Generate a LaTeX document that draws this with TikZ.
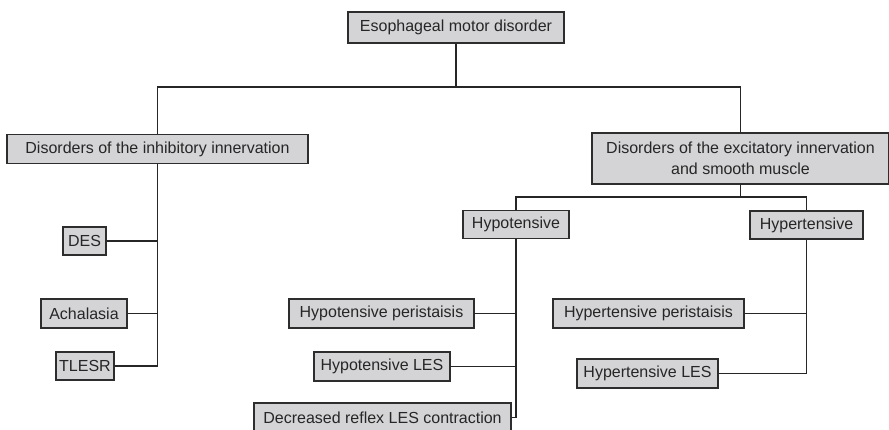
\documentclass[tikz,border=0pt]{standalone}
\usepackage{fontspec}
\setmainfont{Liberation Sans}
\usepackage{tikz}
\usetikzlibrary{calc}
\definecolor{boxgray}{RGB}{212,212,214}
\definecolor{edgegray}{RGB}{45,45,45}

\begin{document}
\begin{tikzpicture}[x=1pt,y=-1pt,
        box/.style={draw=edgegray, line width=1.4pt, fill=boxgray, text=black!85,
            inner xsep=1pt, inner ysep=0pt, minimum height=29pt,
            font=\fontsize{16}{21}\selectfont, align=center},
        link/.style={draw=black!85, line width=1.3pt}]
            \useasboundingbox (0,0) rectangle (889,430);
            \node[box, minimum width=216pt, minimum height=31pt] (root) at (456,27.5) {Esophageal motor disorder};
            \node[box, minimum width=301pt] (inh) at (157.5,149) {Disorders of the inhibitory innervation};
            \node[box, minimum width=297pt, minimum height=51pt] (exc) at (740.5,158.5) {Disorders of the excitatory innervation\\and smooth muscle};
            \node[box, minimum width=106pt, minimum height=28pt] (hypo) at (516,224.5) {Hypotensive};
            \node[box, minimum width=113pt, minimum height=28pt] (hyper) at (806.5,225) {Hypertensive};
            \node[box, minimum width=43pt, minimum height=28pt] (des) at (84.5,241) {DES};
            \node[box, minimum width=86pt] (acha) at (84,313.5) {Achalasia};
            \node[box, minimum width=58pt, minimum height=28pt] (tlesr) at (85,366) {TLESR};
            \node[box, minimum width=185pt] (hypoper) at (381.5,313.5) {Hypotensive peristaisis};
            \node[box, minimum width=136pt] (hypoles) at (382,366.5) {Hypotensive LES};
            \node[box, minimum width=257pt] (decr) at (382.5,417.5) {Decreased reflex LES contraction};
            \node[box, minimum width=191pt] (hyperper) at (648.5,313.5) {Hypertensive peristaisis};
            \node[box, minimum width=141pt] (hyperles) at (647.5,373.5) {Hypertensive LES};
            \coordinate (split) at (456,87);
            \coordinate (fork) at (740.5,197);
            \draw[link] (root.south) -- (split);
            \draw[link] (inh.north) |- (split) -| (exc.north);
            \draw[link] (inh.south) |- (tlesr.east);
            \draw[link] (des.east) -- (des.east -| inh.south);
            \draw[link] (acha.east) -- (acha.east -| inh.south);
            \draw[link] (exc.south) -- (fork);
            \draw[link] (hypo.north) |- (fork) -| (hyper.north);
            \draw[link] (hypo.south) |- (decr.east);
            \draw[link] (hypoper.east) -- (hypoper.east -| hypo.south);
            \draw[link] (hypoles.east) -- (hypoles.east -| hypo.south);
            \draw[link] (hyper.south) |- (hyperles.east);
            \draw[link] (hyperper.east) -- (hyperper.east -| hyper.south);
        \end{tikzpicture}
\end{document}
